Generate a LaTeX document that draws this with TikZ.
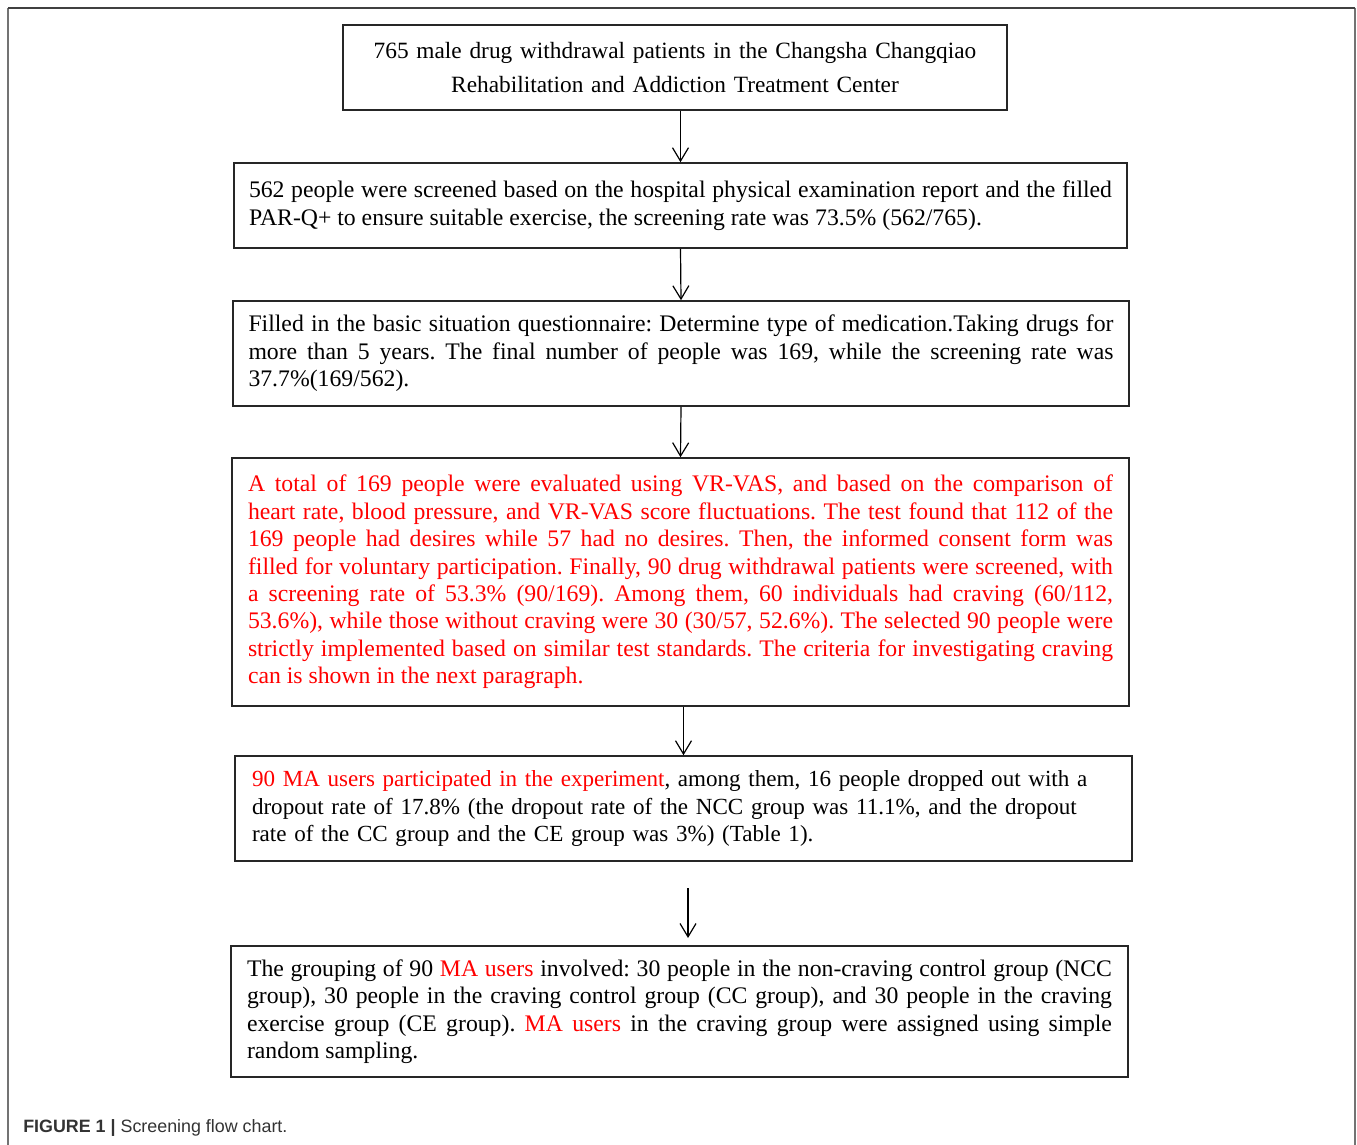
\documentclass[tikz,border=0pt]{standalone}
\usepackage{fontspec}
\setmainfont{Liberation Serif}
\newfontfamily\capfont{Liberation Sans}
\usepackage{tikz}
\usetikzlibrary{positioning,arrows.meta}
\frenchspacing
\tikzset{
    x=0.75pt,
    y=-0.75pt,
    block/.style = {
        draw=black!85,
        shape=rectangle,
        line width=1.2pt,
        inner xsep=0pt,
        inner ysep=0pt,
        font={\fontsize{17.8}{20.6}\selectfont\tolerance=9999\hyphenpenalty=10000\exhyphenpenalty=10000}
    },
    wide/.style = {
        minimum width=672.75pt,
        text width=648.75pt
    },
    frame/.style = {
        line width=1.5pt
    },
    >={Straight Barb[length=10pt,width=12pt]},
}

\begin{document}
\begin{tikzpicture}
    \useasboundingbox (0,0) rectangle (1357,1145);
    \draw[frame, draw=black!55] (8,1145) -- (8,8);
    \draw[frame, draw=black!55] (1355,8) -- (1355,1145);
    \draw[frame, draw=black!75] (8,8) -- (1355,8);

    \node[block, minimum width=498pt, minimum height=63.75pt, text width=480pt, align=center,
          font=\fontsize{17.5}{26}\selectfont] (total) at (675,67.5)
        {765 male drug withdrawal patients in the Changsha Changqiao\\
         Rehabilitation and Addiction Treatment Center};
    \node[block, wide, minimum width=669.75pt, text width=647.25pt, minimum height=63.75pt, align=justify] (screen) at (680.5,205.5)
        {562 people were screened based on the hospital physical examination report and the filled\linebreak
         PAR-Q+ to ensure suitable exercise, the screening rate was 73.5\% (562/765).};
    \node[block, wide, minimum width=672pt, minimum height=78.75pt, align=justify] (quest) at (681,353.5)
        {Filled in the basic situation questionnaire: Determine type of medication.Taking drugs for\linebreak
         more than 5 years. The final number of people was 169, while the screening rate was\linebreak
         37.7\%(169/562).};
    \node[block, wide, minimum height=186pt, align=justify, text=red] (vrvas) at (680.5,582)
        {A total of 169 people were evaluated using VR-VAS, and based on the comparison of\linebreak
         heart rate, blood pressure, and VR-VAS score fluctuations. The test found that 112 of the\linebreak
         169 people had desires while 57 had no desires. Then, the informed consent form was\linebreak
         filled for voluntary participation. Finally, 90 drug withdrawal patients were screened, with\linebreak
         a screening rate of 53.3\% (90/169). Among them, 60 individuals had craving (60/112,\linebreak
         53.6\%), while those without craving were 30 (30/57, 52.6\%). The selected 90 people were\linebreak
         strictly implemented based on similar test standards. The criteria for investigating craving\linebreak
         can is shown in the next paragraph.};
    \node[block, wide, text width=647.25pt, minimum height=78.75pt, align=left,
          font=\fontsize{17.3}{20.4}\selectfont] (expt) at (683.5,808.5)
        {\textcolor{red}{90 MA users participated in the experiment}, among them, 16 people dropped out with a\\
         dropout rate of 17.8\% (the dropout rate of the NCC group was 11.1\%, and the dropout\\
         rate of the CC group and the CE group was 3\%) (Table 1).};
    \node[block, wide, minimum height=98.25pt, align=justify] (group) at (679.5,1011.5)
        {The grouping of 90 \textcolor{red}{MA users} involved: 30 people in the non-craving control group (NCC\linebreak
         group), 30 people in the craving control group (CC group), and 30 people in the craving\linebreak
         exercise group (CE group). \textcolor{red}{MA users} in the craving group were assigned using simple\linebreak
         random sampling.};
    \coordinate (gapA) at (688,888);
    \coordinate (gapB) at (688,938);

    \node[anchor=base west, inner sep=0pt, text=black!80,
          font=\capfont\fontsize{13.4}{15}\selectfont] (caption) at (23,1132)
        {\textbf{FIGURE 1 |} Screening flow chart.};

    %connect
    \path[draw, ->, line width=0.9pt] (total.south -| screen.north) -- (screen.north);
    \path[draw, ->, line width=0.9pt] (screen.south) -- (quest.north);
    \path[draw, ->, line width=0.9pt] (quest.south) -- (vrvas.north);
    \path[draw, ->, line width=0.9pt] (vrvas.south -| expt.north) -- (expt.north);
    \path[draw, ->, line width=0.9pt] (gapA) -- (gapB);
\end{tikzpicture}
\end{document}
